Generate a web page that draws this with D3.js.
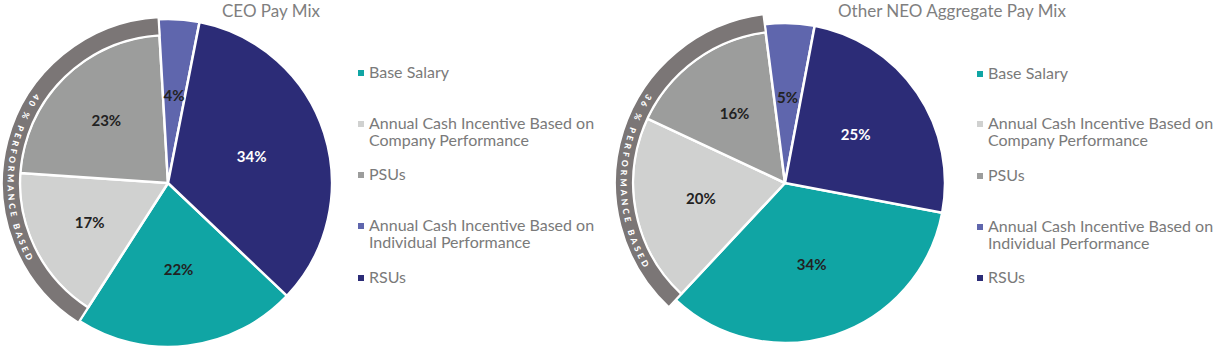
<!DOCTYPE html>
<html lang="en">
<head>
<meta charset="UTF-8">
<title>Pay Mix</title>
<script src="https://cdn.jsdelivr.net/npm/d3@7"></script>
<style>
  body { margin: 0; background: #fff; }
  svg { display: block; font-family: Lato, "Open Sans", sans-serif; }
</style>
</head>
<body>
<svg id="chart" width="1214" height="350"></svg>
<script>
// data
var categories = ["Base Salary", "Annual Cash Incentive Based on Company Performance", "PSUs",
                  "Annual Cash Incentive Based on Individual Performance", "RSUs"];
var legendLines = [["Base Salary"], ["Annual Cash Incentive Based on", "Company Performance"], ["PSUs"],
                   ["Annual Cash Incentive Based on", "Individual Performance"], ["RSUs"]];
var ceoValues = [22, 17, 23, 4, 34];
var neoValues = [34, 20, 16, 5, 25];
var chartTitles = ["CEO Pay Mix", "Other NEO Aggregate Pay Mix"];
var perfBased = [1, 2];   // categories that make up the performance based band
var colors = ["#10a5a4", "#d0d1d0", "#9c9d9c", "#5f66ad", "#2c2c77"];

var charts = [
  {title: chartTitles[0], values: ceoValues, cx: 168, cy: 183, r: 164, rIn: 148, rBand: 166, start: 133.5,
   titleX: 222, legX: 358, legBase: [78, 129, 180, 231, 283], textFrom: 304, textTo: 241},
  {title: chartTitles[1], values: neoValues, cx: 785, cy: 183, r: 160, rIn: 152, rBand: 170, start: 100.7,
   titleX: 838, legX: 977, legBase: [79, 129, 181, 232, 283], textFrom: 303, textTo: 239}
];

var svg = d3.select("#chart");
var rad = Math.PI / 180;

charts.forEach(function(c, ci) {
  var g = svg.append("g").attr("transform", "translate(" + c.cx + "," + c.cy + ")");

  var pie = d3.pie().sort(null)
      .startAngle(c.start * rad)
      .endAngle(c.start * rad + 2 * Math.PI);
  var arcs = pie(c.values);

  var arc = d3.arc().innerRadius(0)
      .outerRadius(function(d) { return perfBased.indexOf(d.index) >= 0 ? c.rIn : c.r; });

  g.selectAll("path.slice")
    .data(arcs)
    .enter().append("path")
    .attr("class", "slice")
    .attr("d", arc)
    .attr("fill", function(d) { return colors[d.index]; })
    .attr("stroke", "#fff")
    .attr("stroke-width", 2.5)
    .attr("stroke-linejoin", "round");

  // performance based band
  var a0 = arcs[perfBased[0]].startAngle, a1 = arcs[perfBased[perfBased.length - 1]].endAngle;
  g.append("path")
    .attr("d", d3.arc()({innerRadius: c.rIn, outerRadius: c.rBand, startAngle: a0, endAngle: a1}))
    .attr("fill", "#7b7676")
    .attr("stroke", "#fff")
    .attr("stroke-width", 2);

  var perfTotal = d3.sum(perfBased, function(i) { return c.values[i]; });
  var rMid = (c.rIn + c.rBand) / 2 + 0.5;
  var t0 = c.textFrom * rad, t1 = c.textTo * rad;
  var p0 = [rMid * Math.sin(t0), -rMid * Math.cos(t0)],
      p1 = [rMid * Math.sin(t1), -rMid * Math.cos(t1)];
  var pathId = "band" + ci;
  g.append("path")
    .attr("id", pathId)
    .attr("d", "M" + p0[0] + "," + p0[1] + "A" + rMid + "," + rMid + " 0 0 0 " + p1[0] + "," + p1[1])
    .attr("fill", "none");
  var arcLen = rMid * (t0 - t1);
  g.append("text")
    .attr("fill", "#fff")
    .attr("font-size", 8.5)
    .attr("font-weight", 900)
    .attr("dy", "0.35em")
    .append("textPath")
    .attr("href", "#" + pathId)
    .attr("textLength", arcLen)
    .attr("lengthAdjust", "spacing")
    .text(perfTotal + " % PERFORMANCE BASED");

  // value labels
  var labelArc = d3.arc().innerRadius(c.r * 0.535).outerRadius(c.r * 0.535);
  g.selectAll("text.val")
    .data(arcs)
    .enter().append("text")
    .attr("class", "val")
    .attr("transform", function(d) { return "translate(" + labelArc.centroid(d) + ")"; })
    .attr("text-anchor", "middle")
    .attr("dy", "0.35em")
    .attr("font-size", 15)
    .attr("font-weight", 700)
    .attr("fill", function(d) { return d.index === 4 ? "#fff" : "#222"; })
    .text(function(d) { return d.data + "%"; });

  // title
  svg.append("text")
    .attr("x", c.titleX)
    .attr("y", 17)
    .attr("font-size", 17)
    .attr("fill", "#7f7f7f")
    .text(c.title);

  // legend
  var items = svg.append("g").selectAll("g")
    .data(categories)
    .enter().append("g");
  items.append("rect")
    .attr("x", c.legX)
    .attr("y", function(d, i) { return c.legBase[i] - 8; })
    .attr("width", 6)
    .attr("height", 6)
    .attr("fill", function(d, i) { return colors[i]; });
  items.each(function(d, i) {
    d3.select(this).selectAll("text")
      .data(legendLines[i])
      .enter().append("text")
      .attr("x", c.legX + 11)
      .attr("y", function(t, j) { return c.legBase[i] + j * 17; })
      .attr("font-size", 16)
      .attr("fill", "#7a7a7a")
      .text(function(t) { return t; });
  });
});
</script>
</body>
</html>
